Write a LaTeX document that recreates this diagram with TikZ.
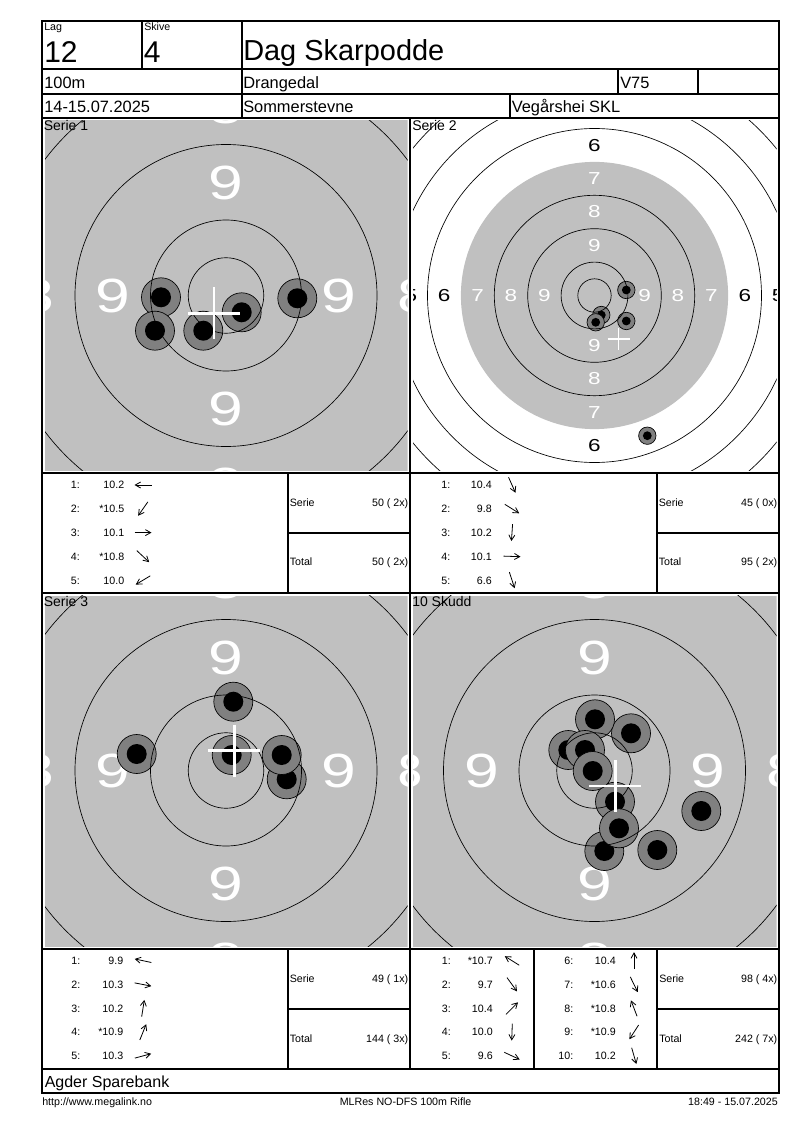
\documentclass[tikz,border=0pt]{standalone}
\usepackage{fontspec}
\setmainfont{Liberation Sans}
\newfontfamily\ringfont[FakeStretch=1.3]{Liberation Sans}
\usetikzlibrary{arrows.meta}
\definecolor{tgrey}{RGB}{192,192,192}
\definecolor{hgrey}{RGB}{128,128,128}

\begin{document}
\begin{tikzpicture}[x=0.75pt,y=-0.75pt,
  frame/.style={line width=0.8pt},
  ring/.style={line width=0.5pt},
  hole/.style={fill=hgrey,draw=black,line width=0.5pt},
  cross/.style={white,line width=2.2pt},
  thincross/.style={white,line width=0.8pt},
  bigring/.style={white,inner sep=0pt,font=\ringfont\fontsize{36}{36}\selectfont},
  ringnum/.style={inner sep=0pt,font=\ringfont\fontsize{13}{13}\selectfont},
  txtsmall/.style={inner sep=0pt,font=\fontsize{8}{9}\selectfont},
  txthead/.style={inner sep=0pt,font=\fontsize{12.3}{14}\selectfont},
  txtserie/.style={inner sep=0pt,font=\fontsize{10.5}{12}\selectfont},
  bignr/.style={inner sep=0pt,font=\fontsize{22.5}{24}\selectfont},
  shotarrow/.style={line width=0.6pt,-{Straight Barb[length=4pt,width=4.5pt]}}
]

\useasboundingbox (0,0) rectangle (800,1130);

% Serie 1
\coordinate (c1) at (226,295.5);
\begin{scope}
  \clip (45,120.5) rectangle (407.5,470.5);
  \fill[tgrey] (45,120.5) rectangle (407.5,470.5);
  \foreach \a in {0,90,180,270} {
    \node[bigring] (t1-9-\a) at ([shift={(\a:113)}]c1) {9};
    \node[bigring] (t1-8-\a) at ([shift={(\a:189)}]c1) {8};
  }
  \foreach \x/\y in {161/297.3,203.3/330.7,297.3/298.3,241.7/312.3,155/330.7} {
    \filldraw[hole] (\x,\y) circle (19.5);
    \fill (\x,\y) circle (10);
  }
  \foreach \r in {37.75,75.5,151,226.5}
    \draw[ring] (c1) circle (\r);
  \draw[cross] (188,313.3) -- (240,313.3) (214,287.3) -- (214,339.3);
\end{scope}
\node[txtserie,anchor=base west] (serie1) at (43.5,131) {Serie 1};

% Serie 2
\coordinate (c2) at (594.5,295.5);
\begin{scope}
  \clip (413,120.5) rectangle (776.5,470.5);
  \fill[tgrey] (c2) circle (133.6);
  \foreach \a in {0,90,180,270} {
    \node[ringnum,white] (t2-9-\a) at ([shift={(\a:50.1)}]c2) {9};
    \node[ringnum,white] (t2-8-\a) at ([shift={(\a:83.5)}]c2) {8};
    \node[ringnum,white] (t2-7-\a) at ([shift={(\a:116.9)}]c2) {7};
    \node[ringnum] (t2-6-\a) at ([shift={(\a:150.3)}]c2) {6};
    \node[ringnum] (t2-5-\a) at ([shift={(\a:183.7)}]c2) {5};
  }
  \foreach \x/\y in {601.3/315,626.3/321,595.7/322.3,626.3/290,647.3/435.7} {
    \filldraw[hole] (\x,\y) circle (8.7);
    \fill (\x,\y) circle (4.4);
  }
  \foreach \r in {16.7,33.4,66.8,100.2,167,200.4,233.8}
    \draw[ring] (c2) circle (\r);
  \draw[thincross] (607.7,339) -- (629.7,339) (618.7,328) -- (618.7,350);
\end{scope}
\node[txtserie,anchor=base west] (serie2) at (412,131) {Serie 2};

% Serie 3
\coordinate (c3) at (226,770.5);
\begin{scope}
  \clip (45,595.5) rectangle (407.5,946.5);
  \fill[tgrey] (45,595.5) rectangle (407.5,946.5);
  \foreach \a in {0,90,180,270} {
    \node[bigring] (t3-9-\a) at ([shift={(\a:113)}]c3) {9};
    \node[bigring] (t3-8-\a) at ([shift={(\a:189)}]c3) {8};
  }
  \foreach \x/\y in {136.7/754,286.7/779.3,233.3/701.7,231.7/755,281.7/755} {
    \filldraw[hole] (\x,\y) circle (19.5);
    \fill (\x,\y) circle (10);
  }
  \foreach \r in {37.75,75.5,151,226.5}
    \draw[ring] (c3) circle (\r);
  \draw[cross] (208.3,750.7) -- (260.3,750.7) (234.3,724.7) -- (234.3,776.7);
\end{scope}
\node[txtserie,anchor=base west] (serie3) at (43.5,606.7) {Serie 3};

% 10 Skudd
\coordinate (c4) at (594.5,770.5);
\begin{scope}
  \clip (413,595.5) rectangle (776.5,946.5);
  \fill[tgrey] (413,595.5) rectangle (776.5,946.5);
  \foreach \a in {0,90,180,270} {
    \node[bigring] (t4-9-\a) at ([shift={(\a:113)}]c4) {9};
    \node[bigring] (t4-8-\a) at ([shift={(\a:189)}]c4) {8};
  }
  \foreach \x/\y in {568.3/750,657.3/850,631/733.3,604.3/851,701.3/811,
                     595/719.3,615/801.7,585/750,592.7/771,619/828.3} {
    \filldraw[hole] (\x,\y) circle (19.5);
    \fill (\x,\y) circle (10);
  }
  \foreach \r in {37.75,75.5,151,226.5}
    \draw[ring] (c4) circle (\r);
  \draw[cross] (589.4,786) -- (641.4,786) (615.4,760) -- (615.4,812);
\end{scope}
\node[txtserie,anchor=base west] (skudd) at (412,606.7) {10 Skudd};

% results Serie 1
\foreach \sn/\sv/\sa [count=\i from 0] in {1/10.2/180,2/*10.5/125,3/10.1/0,4/*10.8/43,5/10.0/149} {
  \node[txtsmall,anchor=base east] (r1n\sn) at (80,488.8+23.8*\i) {\sn:};
  \node[txtsmall,anchor=base east] (r1v\sn) at (124.5,488.8+23.8*\i) {\sv};
  \draw[shotarrow] (143,485+23.8*\i) ++(\sa+180:8.5) -- ++(\sa:17);
}
\node[txtsmall,anchor=base west] (r1s) at (289.5,506.5) {Serie};
\node[txtsmall,anchor=base east] (r1sv) at (408.5,506.5) {50 ( 2x)};
\node[txtsmall,anchor=base west] (r1t) at (289.5,565.5) {Total};
\node[txtsmall,anchor=base east] (r1tv) at (408.5,565.5) {50 ( 2x)};

% results Serie 2
\foreach \sn/\sv/\sa [count=\i from 0] in {1/10.4/66,2/9.8/32,3/10.2/94,4/10.1/2,5/6.6/72} {
  \node[txtsmall,anchor=base east] (r2n\sn) at (450.5,488.8+23.8*\i) {\sn:};
  \node[txtsmall,anchor=base east] (r2v\sn) at (492,488.8+23.8*\i) {\sv};
  \draw[shotarrow] (512,485+23.8*\i) ++(\sa+180:8.5) -- ++(\sa:17);
}
\node[txtsmall,anchor=base west] (r2s) at (658.5,506.5) {Serie};
\node[txtsmall,anchor=base east] (r2sv) at (777.5,506.5) {45 ( 0x)};
\node[txtsmall,anchor=base west] (r2t) at (658.5,565.5) {Total};
\node[txtsmall,anchor=base east] (r2tv) at (777.5,565.5) {95 ( 2x)};

% results Serie 3
\foreach \sn/\sv/\sa [count=\i from 0] in {1/9.9/192,2/10.3/11,3/10.2/-81,4/*10.9/-68,5/10.3/-15} {
  \node[txtsmall,anchor=base east] (r3n\sn) at (80.5,964.5+23.8*\i) {\sn:};
  \node[txtsmall,anchor=base east] (r3v\sn) at (123.5,964.5+23.8*\i) {\sv};
  \draw[shotarrow] (143,960.7+23.8*\i) ++(\sa+180:8.5) -- ++(\sa:17);
}
\node[txtsmall,anchor=base west] (r3s) at (289.5,982) {Serie};
\node[txtsmall,anchor=base east] (r3sv) at (408.5,982) {49 ( 1x)};
\node[txtsmall,anchor=base west] (r3t) at (289.5,1042) {Total};
\node[txtsmall,anchor=base east] (r3tv) at (408.5,1042) {144 ( 3x)};

% results 10 Skudd
\foreach \sn/\sv/\sa [count=\i from 0] in {1/*10.7/-148,2/9.7/54,3/10.4/-45,4/10.0/92,5/9.6/25} {
  \node[txtsmall,anchor=base east] (r4n\sn) at (451,964.5+23.8*\i) {\sn:};
  \node[txtsmall,anchor=base east] (r4v\sn) at (493,964.5+23.8*\i) {\sv};
  \draw[shotarrow] (512,960.7+23.8*\i) ++(\sa+180:8.5) -- ++(\sa:17);
}
\foreach \sn/\sv/\sa [count=\i from 0] in {6/10.4/-90,7/*10.6/64,8/*10.8/-111,9/*10.9/123,10/10.2/74} {
  \node[txtsmall,anchor=base east] (r4n\sn) at (573.5,964.5+23.8*\i) {\sn:};
  \node[txtsmall,anchor=base east] (r4v\sn) at (616,964.5+23.8*\i) {\sv};
  \draw[shotarrow] (634,960.7+23.8*\i) ++(\sa+180:8.5) -- ++(\sa:17);
}
\node[txtsmall,anchor=base west] (r4s) at (659,982) {Serie};
\node[txtsmall,anchor=base east] (r4sv) at (777.5,982) {98 ( 4x)};
\node[txtsmall,anchor=base west] (r4t) at (659,1042) {Total};
\node[txtsmall,anchor=base east] (r4tv) at (777.5,1042) {242 ( 7x)};

% header
\node[txtsmall,anchor=base west] (laglbl) at (44,31) {Lag};
\node[txtsmall,anchor=base west] (skivelbl) at (144,31) {Skive};
\node[bignr,anchor=base west] (lagnr) at (44,62.7) {12};
\node[bignr,anchor=base west] (skivenr) at (143.5,62.7) {4};
\node[inner sep=0pt,font=\fontsize{21.7}{24}\selectfont,anchor=base west] (navn) at (243,61) {Dag Skarpodde};
\node[txthead,anchor=base west] (avstand) at (44,89) {100m};
\node[txthead,anchor=base west] (sted) at (243,89) {Drangedal};
\node[txthead,anchor=base west] (klasse) at (620,89) {V75};
\node[txthead,anchor=base west] (dato) at (44,112.7) {14-15.07.2025};
\node[txthead,anchor=base west] (stevne) at (243,112.7) {Sommerstevne};
\node[txthead,anchor=base west] (lag) at (511.5,112.7) {Vegårshei SKL};
\node[inner sep=0pt,font=\fontsize{12}{14}\selectfont,anchor=base west] (sponsor) at (44.5,1087.5) {Agder Sparebank};

% footer
\node[txtsmall,anchor=base west] (url) at (42,1105.5) {http://www.megalink.no};
\node[txtsmall,anchor=base west] (prog) at (339.5,1105.5) {MLRes NO-DFS 100m Rifle};
\node[txtsmall,anchor=base east] (tid) at (778,1105.5) {18:49 - 15.07.2025};

% frame
\draw[frame] (42,21) rectangle (779,1093);
\foreach \y in {69,94,118,473,593,949,1069}
  \draw[frame] (42,\y) -- (779,\y);
\draw[frame] (142,21) -- (142,69);
\draw[frame] (242,21) -- (242,118);
\draw[frame] (618,69) -- (618,94);
\draw[frame] (698,69) -- (698,94);
\draw[frame] (510,94) -- (510,118);
\draw[frame] (410,118) -- (410,1069);
\draw[frame] (288,473) -- (288,593) (288,533) -- (410,533);
\draw[frame] (657,473) -- (657,593) (657,533) -- (779,533);
\draw[frame] (288,949) -- (288,1069) (288,1009) -- (410,1009);
\draw[frame] (534,949) -- (534,1069);
\draw[frame] (657,949) -- (657,1069) (657,1009) -- (779,1009);

\end{tikzpicture}
\end{document}
